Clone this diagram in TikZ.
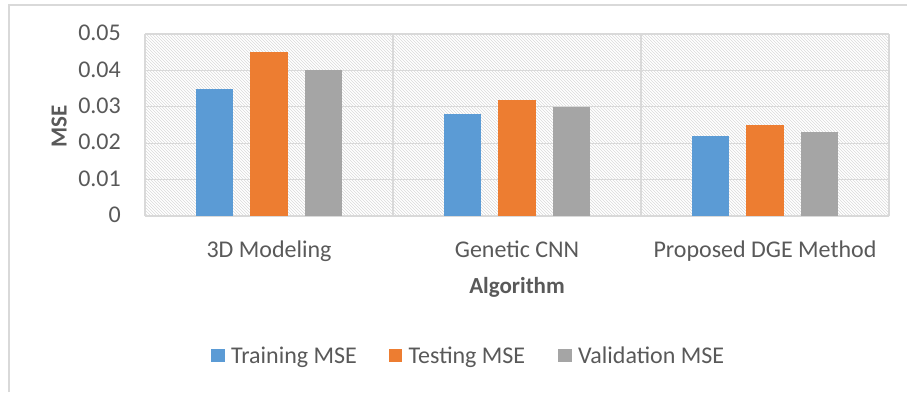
\documentclass[tikz,border=0pt]{standalone}
\usepackage{fontspec}
\setmainfont{Carlito}
\usepackage{tikz}
\usetikzlibrary{patterns}
\usetikzlibrary{positioning}

\definecolor{trainblue}{HTML}{5B9BD5}
\definecolor{testorange}{HTML}{ED7D31}
\definecolor{valgray}{HTML}{A5A5A5}
\definecolor{gridgray}{HTML}{D9D9D9}
\definecolor{txtgray}{HTML}{595959}

\begin{document}
\begin{tikzpicture}[x=1pt, y=-1pt, font=\fontsize{24}{28}\selectfont,
  every node/.style={text=txtgray, inner sep=0pt},
  legsq/.style={minimum size=13.5pt},
  legtxt/.style={right=6pt of #1, text height=15.5pt, text depth=0pt}]
\useasboundingbox (0,0) rectangle (907,392);
\draw[gridgray, line width=1.3pt] (9,392) -- (9,5) -- (907,5);

% plot area
\fill[pattern=north west lines, pattern color=gridgray] (145,34) rectangle (889,216);
\foreach \i in {0,...,5}
  \draw[gridgray, line width=1.3pt] (145,{216-\i*36.4}) -- (889,{216-\i*36.4});
\foreach \x in {145,393,641,889}
  \draw[gridgray, line width=1.3pt] (\x,34) -- (\x,216);

% bars
\foreach \c/\a/\b/\v in {269/0.035/0.045/0.040, 517/0.028/0.032/0.030, 765/0.022/0.025/0.023} {
  \fill[trainblue] (\c-73.25,216) rectangle (\c-35.75,{216-\a*3640});
  \fill[testorange] (\c-18.75,216) rectangle (\c+18.75,{216-\b*3640});
  \fill[valgray] (\c+35.75,216) rectangle (\c+73.25,{216-\v*3640});
}

% axis labels
\foreach \i/\lab in {0/0, 1/0.01, 2/0.02, 3/0.03, 4/0.04, 5/0.05}
  \node[anchor=base east] (tick\i) at (121,{222.7-\i*36.4}) {\lab};
\node[rotate=90, anchor=base, font=\fontsize{23}{28}\selectfont\bfseries] (ytitle) at (66.5,126) {MSE};
\node[anchor=base] (cat3d) at (269,257.7) {3D Modeling};
\node[anchor=base] (catgcnn) at (517,257.7) {Genetic CNN};
\node[anchor=base] (catdge) at (765,257.7) {Proposed DGE Method};
\node[anchor=base, font=\fontsize{23}{28}\selectfont\bfseries] (xtitle) at (517,293) {Algorithm};

% legend
\node[legsq, fill=trainblue] (sqtrain) at (218,355.5) {};
\node[legtxt=sqtrain] (lgtrain) {Training MSE};
\node[legsq, fill=testorange] (sqtest) at (395.5,355.5) {};
\node[legtxt=sqtest] (lgtest) {Testing MSE};
\node[legsq, fill=valgray] (sqval) at (565,355.5) {};
\node[legtxt=sqval] (lgval) {Validation MSE};
\end{tikzpicture}
\end{document}
